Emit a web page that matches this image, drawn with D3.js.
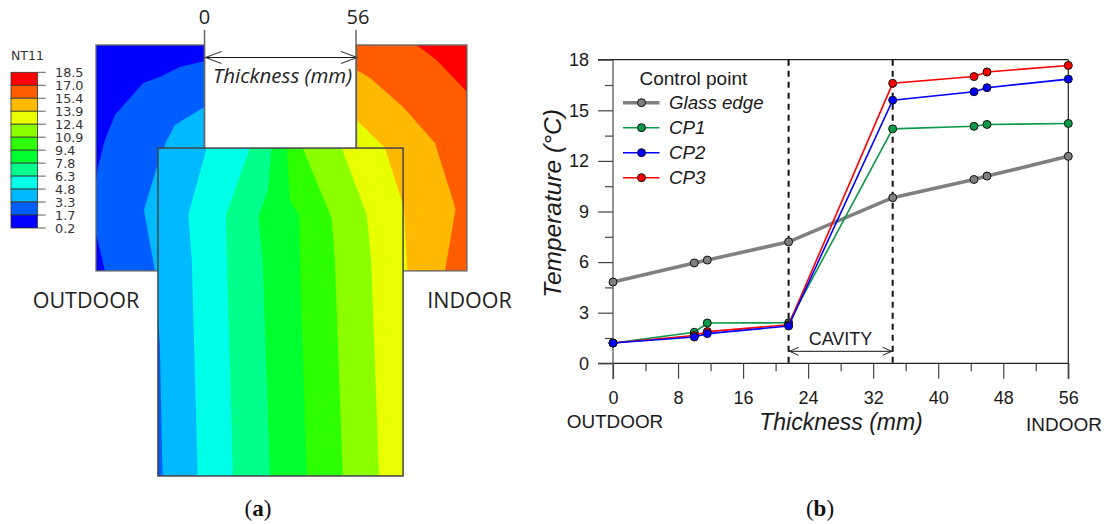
<!DOCTYPE html>
<html>
<head>
<meta charset="utf-8">
<script src="https://cdn.jsdelivr.net/npm/d3@7"></script>
<style>
    body { margin: 0; background: #fff; }
    svg { display: block; }
    .model-text { font-family: "Open Sans", sans-serif; fill: #222; }
    .chart-text { font-family: "Liberation Sans", sans-serif; fill: #1a1a1a; }
    .caption { font-family: "Liberation Serif", serif; font-size: 23px; fill: #111; }
    .domain { display: none; }
</style>
</head>
<body>
<svg id="figure" width="1104" height="524"></svg>
<script>
// Chart (b): temperature through the thickness
const thicknessMm = [0, 10, 11.6, 21.6, 34.4, 44.4, 46, 56];
const glassEdge = [4.82, 5.95, 6.12, 7.2, 9.82, 10.9, 11.1, 12.27];
const cp1 = [1.2, 1.84, 2.39, 2.4, 13.9, 14.05, 14.16, 14.22];
const cp2 = [1.2, 1.56, 1.76, 2.21, 15.6, 16.1, 16.34, 16.85];
const cp3 = [1.2, 1.65, 1.88, 2.28, 16.6, 17.0, 17.27, 17.66];
const cavityMm = [21.6, 34.4];

const yMajorTicks = [0, 3, 6, 9, 12, 15, 18];
const yMinorTicks = [1.5, 4.5, 7.5, 10.5, 13.5, 16.5];
const xMajorTicks = [0, 8, 16, 24, 32, 40, 48, 56];
const xMinorTicks = [4, 12, 20, 28, 36, 44, 52];

// Chart (a): contour legend, highest first
const nt11Labels = ["18.5", "17.0", "15.4", "13.9", "12.4", "10.9", "9.4", "7.8", "6.3", "4.8", "3.3", "1.7", "0.2"];
const nt11Colors = ["#ff0000", "#ff5d00", "#ffb900", "#e8ff00", "#8bff00", "#2eff00", "#00ff2e", "#00ff8b", "#00ffe8", "#00b9ff", "#005dff", "#0000ff"];

// Contour outlines in model mm: [across, down from the top of the frame]
const outdoorDeep = [[0, 5.9], [-9.1, 8.1], [-16.5, 11.8], [-22.7, 14], [-33.1, 25.9], [-36.8, 35.1], [-39.4, 45.1], [-40.1, 50.6], [-40.1, 0], [0, 0]];
const outdoorDeepLow = [[-40.1, 69.5], [-36.8, 83.5], [-40.1, 83.5]];
const outdoorLight = [[0, 22.9], [-10.9, 29.6], [-13.9, 35.1], [-17.6, 45.1], [-22.4, 61], [-18.3, 83.5], [0, 83.5]];
const indoorOrange = [[56.2, 9.2], [61.2, 12.2], [73.4, 22.9], [85.2, 36.2], [92.8, 60.6], [88.9, 83.5], [97, 83.5], [97, 0], [56.2, 0]];
const indoorRed = [[78.4, 0], [85.8, 5.5], [97, 17.4], [97, 0]];
const indoorYellow = [[56.2, 27.7], [66.7, 38.1], [73.4, 59.1], [73.8, 61], [74.9, 83.5], [56.2, 83.5]];

const glassBlue = [[-17.6, 94.3], [-16.5, 110.9], [-15.5, 159.3], [-17.2, 159.3]];
const glassBands = [
    [[0.8, 38.1], [-6, 62.8], [-4.7, 79.5], [-2.5, 159.3]],
    [[16.8, 38.1], [7.9, 62.8], [8.3, 79.5], [10.5, 159.3]],
    [[24.8, 38.1], [23.5, 53.6], [19.9, 63.6], [21.5, 79.5], [24.2, 159.3]],
    [[30.4, 38.1], [31.6, 57.3], [34.9, 62.8], [35.3, 79.5], [37.8, 159.3]],
    [[36.3, 38.1], [47, 64], [48.2, 79.5], [51.1, 159.3]],
    [[50.7, 38.1], [60, 62.8], [61.6, 79.5], [64.5, 159.3]],
    [[66.7, 38.1], [73.4, 59.1], [73.4, 159.3]]
];
const glassBandColors = ["#00ffe8", "#00ff8b", "#00ff2e", "#2eff00", "#8bff00", "#e8ff00", "#ffb900"];

const svg = d3.select("#figure");

// Open arrow head pointing along dir (+1 right, -1 left)
function arrowHead(x, y, dir, len, half) {
    const p = d3.path();
    p.moveTo(x + dir * len, y - half);
    p.lineTo(x, y);
    p.lineTo(x + dir * len, y + half);
    return p.toString();
}

function drawModel() {
    const g = svg.append("g");
    const mx = d3.scaleLinear().domain([0, 56]).range([204.5, 356]);
    const my = d3.scaleLinear().domain([0, 56]).range([45, 196.5]);
    const outline = d3.line().x(d => mx(d[0])).y(d => my(d[1]));
    const poly = pts => outline(pts) + "Z";

    // Outdoor frame
    g.append("rect").attr("x", mx(-40.1)).attr("y", my(0))
        .attr("width", mx(0) - mx(-40.1)).attr("height", my(83.5) - my(0))
        .attr("fill", nt11Colors[10]);
    g.append("path").attr("d", poly(outdoorDeep)).attr("fill", nt11Colors[11]);
    g.append("path").attr("d", poly(outdoorDeepLow)).attr("fill", nt11Colors[11]);
    g.append("path").attr("d", poly(outdoorLight)).attr("fill", nt11Colors[9]);
    g.append("rect").attr("x", mx(-40.1)).attr("y", my(0))
        .attr("width", mx(0) - mx(-40.1)).attr("height", my(83.5) - my(0))
        .attr("fill", "none").attr("stroke", "#666").attr("stroke-width", 1.3);

    // Indoor frame
    g.append("rect").attr("x", mx(56.2)).attr("y", my(0))
        .attr("width", mx(97) - mx(56.2)).attr("height", my(83.5) - my(0))
        .attr("fill", nt11Colors[2]);
    g.append("path").attr("d", poly(indoorOrange)).attr("fill", nt11Colors[1]);
    g.append("path").attr("d", poly(indoorRed)).attr("fill", nt11Colors[0]);
    g.append("path").attr("d", poly(indoorYellow)).attr("fill", nt11Colors[3]);
    g.append("rect").attr("x", mx(56.2)).attr("y", my(0))
        .attr("width", mx(97) - mx(56.2)).attr("height", my(83.5) - my(0))
        .attr("fill", "none").attr("stroke", "#666").attr("stroke-width", 1.3);

    // Guide lines and dimension arrow
    [0, 56].forEach((d, i) => {
        g.append("line").attr("x1", mx(d)).attr("x2", mx(d))
            .attr("y1", 30).attr("y2", my(38.1))
            .attr("stroke", "#666").attr("stroke-width", 1.5);
        g.append("text").attr("class", "model-text")
            .attr("x", mx(d) + (i ? 2 : 0)).attr("y", 24)
            .attr("text-anchor", "middle").attr("font-size", 20).text(d);
    });
    g.append("line").attr("x1", mx(0)).attr("x2", mx(56))
        .attr("y1", 57.5).attr("y2", 57.5).attr("stroke", "#111").attr("stroke-width", 1.2);
    g.append("path").attr("d", arrowHead(mx(0) + 1, 57.5, 1, 16, 6)).attr("fill", "none").attr("stroke", "#444").attr("stroke-width", 1.2);
    g.append("path").attr("d", arrowHead(mx(56) + 1, 57.5, -1, 16, 6)).attr("fill", "none").attr("stroke", "#444").attr("stroke-width", 1.2);
    g.append("text").attr("class", "model-text")
        .attr("x", 282.5).attr("y", 83).attr("text-anchor", "middle")
        .attr("font-size", 20.5).attr("font-style", "italic").text("Thickness (mm)");

    // Glass block on top, bands painted left to right
    svg.append("clipPath").attr("id", "glass-clip").append("rect")
        .attr("x", mx(-17.2)).attr("y", my(38.1))
        .attr("width", mx(73.4) - mx(-17.2)).attr("height", my(159.3) - my(38.1));
    const glass = g.append("g").attr("clip-path", "url(#glass-clip)");
    glass.append("rect").attr("x", mx(-17.2)).attr("y", my(38.1))
        .attr("width", mx(73.4) - mx(-17.2)).attr("height", my(159.3) - my(38.1))
        .attr("fill", nt11Colors[9]);
    glass.append("path").attr("d", poly(glassBlue)).attr("fill", nt11Colors[10]);
    glassBands.forEach((band, i) => {
        const closed = band.concat([[80, 159.3], [80, 38.1]]);
        glass.append("path").attr("d", poly(closed)).attr("fill", glassBandColors[i]);
    });
    g.append("rect").attr("x", mx(-17.2)).attr("y", my(38.1))
        .attr("width", mx(73.4) - mx(-17.2)).attr("height", my(159.3) - my(38.1))
        .attr("fill", "none").attr("stroke", "#444").attr("stroke-width", 1.5);

    g.append("text").attr("class", "model-text").attr("x", 86).attr("y", 308)
        .attr("text-anchor", "middle").attr("font-size", 21.5).text("OUTDOOR");
    g.append("text").attr("class", "model-text").attr("x", 469.5).attr("y", 308)
        .attr("text-anchor", "middle").attr("font-size", 21.5).text("INDOOR");

    // NT11 legend
    const legY = d3.scalePoint().domain(nt11Labels).range([72.3, 228]);
    const leg = svg.append("g").style("font-family", "'DejaVu Sans', sans-serif");
    leg.append("text").attr("x", 11).attr("y", 60).attr("font-size", 12.5)
        .attr("fill", "#333").text("NT11");
    nt11Colors.forEach((c, i) => {
        leg.append("rect").attr("x", 11).attr("y", legY(nt11Labels[i]))
            .attr("width", 26.5).attr("height", legY(nt11Labels[i + 1]) - legY(nt11Labels[i]))
            .attr("fill", c).attr("stroke", "#333").attr("stroke-width", 0.8);
    });
    nt11Labels.forEach(d => {
        leg.append("line").attr("x1", 37.5).attr("x2", 45.7)
            .attr("y1", legY(d)).attr("y2", legY(d)).attr("stroke", "#333").attr("stroke-width", 0.8);
        leg.append("text").attr("x", 55).attr("y", legY(d) + 4.7)
            .attr("font-size", 12.8).attr("fill", "#333").text(d);
    });

    svg.append("text").attr("class", "caption").attr("x", 258).attr("y", 516)
        .attr("text-anchor", "middle").html('(<tspan font-weight="bold">a</tspan>)');
}

function drawChart() {
    const g = svg.append("g").attr("class", "chart-text");
    const x = d3.scaleLinear().domain([0, 56]).range([613, 1068.3]);
    const y = d3.scaleLinear().domain([0, 18]).range([363.3, 59.7]);

    // Frame lines
    [0, 18].forEach(d => {
        g.append("line").attr("x1", 598).attr("x2", x(56)).attr("y1", y(d)).attr("y2", y(d))
            .attr("stroke", "#222").attr("stroke-width", 1.2);
    });
    g.append("line").attr("x1", x(0)).attr("x2", x(0)).attr("y1", y(18)).attr("y2", 379)
        .attr("stroke", "#666").attr("stroke-width", 1.4);
    g.append("line").attr("x1", x(56)).attr("x2", x(56)).attr("y1", y(18)).attr("y2", 379)
        .attr("stroke", "#222").attr("stroke-width", 1.2);

    // Axes
    const yAxis = g.append("g").attr("transform", `translate(${x(0)},0)`)
        .call(d3.axisLeft(y).tickValues(yMajorTicks).tickSize(15).tickPadding(9).tickFormat(d3.format("d")));
    const yMinor = g.append("g").attr("transform", `translate(${x(0)},0)`)
        .call(d3.axisLeft(y).tickValues(yMinorTicks).tickSize(8).tickFormat(""));
    const xAxis = g.append("g").attr("transform", `translate(0,${y(0)})`)
        .call(d3.axisBottom(x).tickValues(xMajorTicks).tickSize(15.5).tickPadding(12).tickFormat(d3.format("d")));
    const xMinor = g.append("g").attr("transform", `translate(0,${y(0)})`)
        .call(d3.axisBottom(x).tickValues(xMinorTicks).tickSize(8).tickFormat(""));
    [yAxis, yMinor, xAxis, xMinor].forEach(a => {
        a.selectAll("line").attr("stroke", "#444").attr("stroke-width", 1.2);
        a.selectAll("text").attr("font-family", "'Liberation Sans', sans-serif")
            .attr("font-size", 18).attr("fill", "#1a1a1a");
    });

    // Cavity limits
    cavityMm.forEach(d => {
        g.append("line").attr("x1", x(d)).attr("x2", x(d)).attr("y1", y(18)).attr("y2", y(0))
            .attr("stroke", "#111").attr("stroke-width", 2).attr("stroke-dasharray", "6,5");
    });
    const arrowY = 351.3;
    g.append("line").attr("x1", x(cavityMm[0])).attr("x2", x(cavityMm[1]))
        .attr("y1", arrowY).attr("y2", arrowY).attr("stroke", "#111").attr("stroke-width", 1);
    g.append("path").attr("d", arrowHead(x(cavityMm[0]) + 1, arrowY, 1, 9, 4)).attr("fill", "none").attr("stroke", "#222");
    g.append("path").attr("d", arrowHead(x(cavityMm[1]) - 1, arrowY, -1, 9, 4)).attr("fill", "none").attr("stroke", "#222");
    g.append("text").attr("x", 840.5).attr("y", 345).attr("text-anchor", "middle")
        .attr("font-size", 18).text("CAVITY");

    // Series, blue drawn last as in the source figure
    const line = d3.line().x((d, i) => x(thicknessMm[i])).y(d => y(d));
    const series = [
        { name: "Glass edge", values: glassEdge, stroke: "#808080", fill: "#7f7f7f", width: 3.6 },
        { name: "CP1", values: cp1, stroke: "#0a9a47", fill: "#0a9a47", width: 1.6 },
        { name: "CP3", values: cp3, stroke: "#ff0000", fill: "#ff0000", width: 1.6 },
        { name: "CP2", values: cp2, stroke: "#0000ff", fill: "#0000ff", width: 1.6 }
    ];
    series.forEach(s => {
        g.append("path").attr("d", line(s.values)).attr("fill", "none")
            .attr("stroke", s.stroke).attr("stroke-width", s.width);
        g.selectAll(null).data(s.values).join("circle")
            .attr("cx", (d, i) => x(thicknessMm[i])).attr("cy", d => y(d))
            .attr("r", 4).attr("fill", s.fill).attr("stroke", "#111").attr("stroke-width", 1);
    });

    // Legend
    g.append("text").attr("x", 639.5).attr("y", 85).attr("font-size", 19).text("Control point");
    const legendOrder = ["Glass edge", "CP1", "CP2", "CP3"];
    const legY = d3.scalePoint().domain(legendOrder).range([102.7, 177.7]);
    legendOrder.forEach(name => {
        const s = series.find(d => d.name === name);
        g.append("line").attr("x1", 623).attr("x2", 659.5).attr("y1", legY(name)).attr("y2", legY(name))
            .attr("stroke", s.stroke).attr("stroke-width", s.width);
        g.append("circle").attr("cx", 641.5).attr("cy", legY(name)).attr("r", 4)
            .attr("fill", s.fill).attr("stroke", "#111").attr("stroke-width", 1);
        g.append("text").attr("x", 669).attr("y", legY(name) + 6.5).attr("font-size", 18.7)
            .attr("font-style", "italic").text(name);
    });

    // Titles
    g.append("text").attr("x", 841).attr("y", 430).attr("text-anchor", "middle")
        .attr("font-size", 23).attr("font-style", "italic").text("Thickness (mm)");
    g.append("text").attr("transform", "translate(561,203.5) rotate(-90)").attr("text-anchor", "middle")
        .attr("font-size", 24.5).attr("font-style", "italic").text("Temperature (°C)");
    g.append("text").attr("x", 615).attr("y", 428).attr("text-anchor", "middle")
        .attr("font-size", 18.9).text("OUTDOOR");
    g.append("text").attr("x", 1064).attr("y", 431).attr("text-anchor", "middle")
        .attr("font-size", 19).text("INDOOR");

    svg.append("text").attr("class", "caption").attr("x", 820).attr("y", 516)
        .attr("text-anchor", "middle").html('(<tspan font-weight="bold">b</tspan>)');
}

drawModel();
drawChart();
</script>
</body>
</html>
